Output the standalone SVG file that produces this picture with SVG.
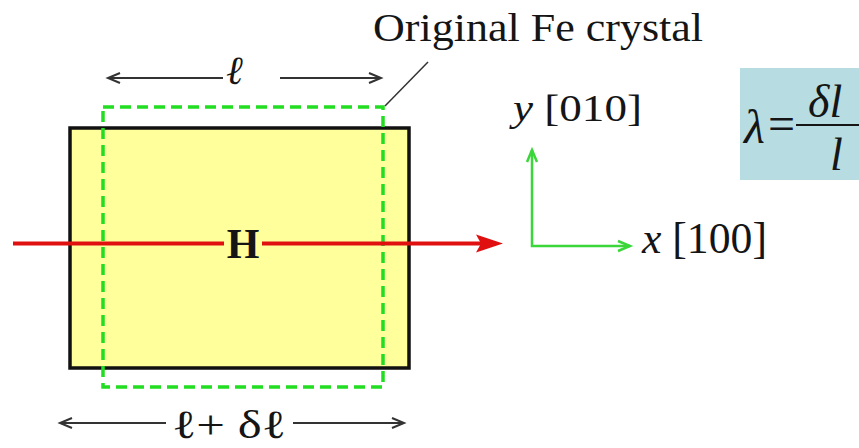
<svg xmlns="http://www.w3.org/2000/svg" width="859" height="448" viewBox="0 0 859 448">
<style>
.t{font-family:"Liberation Serif","Times New Roman",serif;fill:#151515}
.i{font-style:italic}
.dim{stroke:#333;stroke-width:2;fill:none}
.ax{stroke:#3ad63a;stroke-width:2.5;fill:none}
</style>
<defs>
<marker id="mBlack" markerUnits="userSpaceOnUse" markerWidth="14" markerHeight="12" refX="12" refY="5" orient="auto" overflow="visible">
<path d="M0,0 L12,5 L0,10" fill="none" stroke="#333" stroke-width="2"/>
</marker>
<marker id="mGreen" markerUnits="userSpaceOnUse" markerWidth="14" markerHeight="12" refX="12" refY="5" orient="auto-start-reverse" overflow="visible">
<path d="M0,0 L12,5 L0,10" fill="none" stroke="#3ad63a" stroke-width="2.5"/>
</marker>
<marker id="mRed" markerUnits="userSpaceOnUse" markerWidth="28" markerHeight="20" refX="14" refY="9" orient="auto" overflow="visible">
<path d="M0,0 L27,9 L0,18 L5,9 Z" fill="#e01010"/>
</marker>
</defs>

<g id="crystal">
<rect x="70" y="128" width="339" height="240" fill="#ffff9c" stroke="#111" stroke-width="3.5"/>
</g>

<g id="original-crystal">
<rect x="103" y="107" width="280" height="280" fill="none" stroke="#22dd22" stroke-width="3.5" stroke-dasharray="11 6"/>
<text class="t" x="373" y="41" font-size="40" textLength="330" lengthAdjust="spacingAndGlyphs">Original Fe crystal</text>
</g>

<g id="axes">
<text class="t" x="513" y="121" font-size="38" textLength="129" lengthAdjust="spacingAndGlyphs"><tspan class="i">y</tspan> [010]</text>
<text class="t" x="642" y="253" font-size="44" textLength="125" lengthAdjust="spacingAndGlyphs"><tspan class="i">x</tspan> [100]</text>
</g>

<g id="formula">
<rect x="740" y="68" width="119" height="112" fill="#b7dde3"/>
<text class="t i" x="744" y="143" font-size="48">λ</text>
<text class="t" x="768" y="140" font-size="48">=</text>
<line x1="796" y1="125" x2="859" y2="125" stroke="#151515" stroke-width="2"/>
<text class="t i" x="808" y="117" font-size="46">δl</text>
<text class="t i" x="830" y="170" font-size="46">l</text>
</g>

<g id="dimensions">
<text class="t i" x="226" y="84" font-size="40">ℓ</text>
<text class="t" x="172" y="438" font-size="40" textLength="114" lengthAdjust="spacingAndGlyphs">ℓ+ δℓ</text>
</g>

<g id="connectors">
<line x1="385" y1="106" x2="428" y2="62" stroke="#333" stroke-width="1.5"/>
<line class="dim" x1="223" y1="78" x2="108" y2="78" marker-end="url(#mBlack)"/>
<line class="dim" x1="280" y1="78" x2="381" y2="78" marker-end="url(#mBlack)"/>
<line class="dim" x1="166" y1="423" x2="60" y2="423" marker-end="url(#mBlack)"/>
<line class="dim" x1="293" y1="423" x2="404" y2="423" marker-end="url(#mBlack)"/>
<path class="ax" d="M532,150 L532,246 L630,246" marker-start="url(#mGreen)" marker-end="url(#mGreen)"/>
<line x1="13" y1="243.5" x2="224" y2="243.5" stroke="#e01010" stroke-width="4"/>
<line x1="262" y1="243.5" x2="490" y2="243.5" stroke="#e01010" stroke-width="4" marker-end="url(#mRed)"/>
</g>

<g id="field">
<text class="t" x="243" y="258" font-size="42" font-weight="bold" text-anchor="middle">H</text>
</g>
</svg>
